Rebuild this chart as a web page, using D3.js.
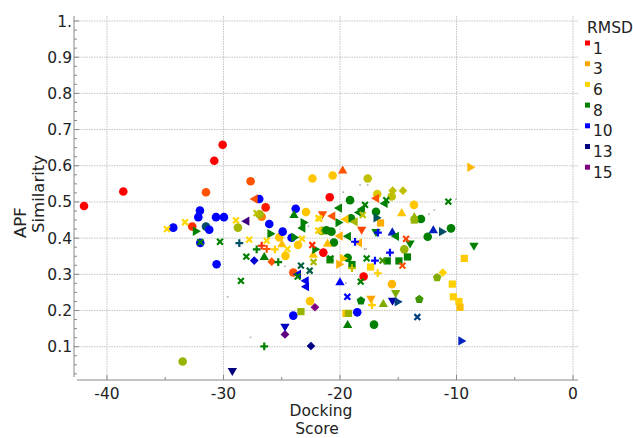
<!DOCTYPE html>
<html>
<head>
<meta charset="utf-8">
<script src="https://cdn.jsdelivr.net/npm/d3@7"></script>
<style>
  body { margin: 0; background: #fff; }
  text { font-family: "DejaVu Sans", sans-serif; fill: #222; }
</style>
</head>
<body>
<svg id="chart" width="633" height="438"></svg>
<script>
// [docking score, APF similarity, RMSD] grouped by marker shape
const circlePoints = [
  [-41.97,0.489,1],[-38.6,0.529,1],[-31.5,0.527,2],[-30.79,0.614,1],[-30.07,0.658,1],
  [-27.67,0.557,2],[-26.93,0.508,10],[-26.38,0.485,1.3],[-26.72,0.459,2.5],[-26.9,0.466,6.7],
  [-32.02,0.476,10],[-32.16,0.458,10],[-30.64,0.458,10],[-29.96,0.458,10],[-22.36,0.565,5],
  [-23.8,0.481,10],[-22.92,0.472,5],[-34.31,0.429,10],[-32.68,0.432,1.5],[-31.5,0.432,8.8],
  [-31.22,0.423,10],[-31.99,0.387,10],[-30.59,0.328,10],[-28.76,0.429,6.7],[-26.07,0.439,10],
  [-25.21,0.402,5],[-24.92,0.418,10],[-24.68,0.351,5],[-24.15,0.401,10],[-23.6,0.381,5],
  [-24.01,0.305,2],[-22.57,0.226,5],[-24.01,0.186,10],[-33.5,0.059,6.8],[-20.63,0.573,5],
  [-17.62,0.565,6.5],[-20.88,0.513,1],[-16.8,0.522,6.3],[-15.56,0.515,6.5],[-19.14,0.505,8],
  [-13.65,0.492,5],[-16.91,0.473,8],[-21.57,0.420,6.8],[-21.16,0.422,8],[-20.73,0.418,8],
  [-20.52,0.388,8],[-14.48,0.369,6.8],[-21.43,0.360,1],[-19.34,0.346,8],[-17.97,0.294,1],
  [-15.54,0.273,4],[-18.52,0.195,10],[-17.08,0.161,8],[-13.05,0.453,8],[-12.47,0.404,8],
  [-10.47,0.427,8],[-19.06,0.455,8]
];
const squarePoints = [
  [-23.35,0.197,6.8],[-16.52,0.442,3.5],[-20.86,0.340,7.8],[-18.97,0.327,8],[-15.94,0.337,8],
  [-14.94,0.337,8],[-14.21,0.348,8],[-17.37,0.320,6],[-10.36,0.273,5.5],[-10.27,0.238,5.5],
  [-9.79,0.225,5.5],[-9.7,0.209,4.5],[-19.49,0.192,5],[-19.27,0.192,6.8],[-13.62,0.450,6.8],
  [-9.33,0.344,5.3]
];
const diamondPoints = [
  [-27.36,0.338,11],[-25.86,0.335,2],[-22.15,0.209,15],[-24.72,0.134,14.5],[-22.49,0.102,13],
  [-15.48,0.531,6.5],[-14.59,0.531,6.5],[-11.18,0.305,5.7]
];
const triUpPoints = [
  [-23.95,0.463,8],[-26.5,0.347,8],[-24.98,0.382,4.5],[-22.29,0.353,5],[-19.77,0.586,2],
  [-14.7,0.468,5],[-15.51,0.415,9.5],[-21.07,0.384,4.5],[-20.0,0.277,10],[-16.28,0.217,7],
  [-19.34,0.159,8],[-13.62,0.457,6.8],[-11.99,0.421,9.5]
];
const triDownPoints = [
  [-24.72,0.156,11.5],[-29.24,0.034,13],[-21.5,0.467,2],[-18.14,0.424,1.8],[-16.91,0.418,8],
  [-13.99,0.386,8],[-15.22,0.249,7],[-17.34,0.233,3],[-15.49,0.228,12],[-8.5,0.380,8]
];
const triLeftPoints = [
  [-27.3,0.508,2],[-28.01,0.447,14],[-23.58,0.300,10.5],[-22.92,0.282,10.5],[-22.89,0.266,10.5],
  [-23.2,0.428,8],[-18.09,0.480,8],[-16.14,0.496,8],[-16.87,0.510,2],[-20.06,0.483,8],
  [-18.34,0.471,8],[-20.64,0.461,2],[-19.5,0.452,5],[-18.71,0.445,6.7],[-20.0,0.406,3.5],
  [-19.29,0.405,8],[-18.34,0.387,3.5],[-15.17,0.405,8]
];
const triRightPoints = [
  [-32.4,0.419,8],[-26.0,0.412,8],[-23.95,0.402,8],[-22.15,0.369,8],[-23.15,0.443,8],
  [-20.15,0.443,8],[-16.89,0.456,8.7],[-19.77,0.344,5],[-20.09,0.328,3.5],[-15.08,0.224,9],
  [-9.61,0.116,9.5],[-8.84,0.596,4],[-11.27,0.418,8.8]
];
const timesPoints = [
  [-27.15,0.469,6.5],[-34.85,0.425,6],[-33.3,0.444,6],[-31.99,0.389,8],[-30.3,0.390,8],
  [-28.93,0.449,6],[-28.5,0.282,8],[-28.04,0.349,8],[-27.79,0.396,6],[-26.29,0.393,6],
  [-24.51,0.370,6],[-23.26,0.398,6],[-23.35,0.324,8.5],[-23.63,0.294,8],[-22.6,0.310,8.5],
  [-22.38,0.381,1.5],[-22.27,0.334,6.7],[-21.86,0.455,6],[-21.86,0.421,5.5],[-17.85,0.492,8],
  [-16.03,0.505,8],[-18.05,0.464,6.5],[-21.76,0.454,6],[-14.33,0.398,1.8],[-20.82,0.344,8],
  [-17.71,0.344,8],[-16.35,0.338,7.5],[-14.64,0.324,2],[-18.22,0.280,8],[-19.37,0.238,10],
  [-13.36,0.182,9],[-10.7,0.501,8]
];
const plusPoints = [
  [-28.64,0.386,8.8],[-27.15,0.369,8],[-26.72,0.379,1.5],[-26.29,0.370,2],[-25.58,0.369,5.5],
  [-25.3,0.334,8],[-26.5,0.101,8],[-16.74,0.415,10],[-18.71,0.390,10],[-15.71,0.360,10],
  [-18.97,0.317,6.5],[-17.0,0.338,10],[-16.76,0.303,5.5],[-17.25,0.215,5.5]
];
const pentagonPoints = [
  [-18.2,0.227,8],[-13.19,0.231,7.5],[-11.66,0.291,7]
];
const dotPoints = [
  [-29.64,0.238],[-27.67,0.126],[-24.72,0.322],[-18.28,0.547],[-17.62,0.547],[-19.72,0.527],
  [-10.04,0.508],[-11.9,0.478],[-12.36,0.466],[-17.9,0.37],[-17.75,0.37],[-19.5,0.276],[-22.7,0.433]
];

const legendValues = [1, 3, 6, 8, 10, 13, 15];
const legendColors = ["#ff0000", "#ffa500", "#ffd700", "#008000", "#0000ff", "#000080", "#800080"];
const xTicks = [-40, -30, -20, -10, 0];
const xMinorTicks = [-35, -25, -15, -5];
const yTicks = [0.1, 0.2, 0.3, 0.4, 0.5, 0.6, 0.7, 0.8, 0.9, 1.0];
const yTickLabels = ["0.1", "0.2", "0.3", "0.4", "0.5", "0.6", "0.7", "0.8", "0.9", "1."];

const svg = d3.select('#chart');

const x = d3.scaleLinear().domain([-42.83, 0.43]).range([74, 578]);
const y = d3.scaleLinear().domain([0, 1]).range([382.9, 21]);
const color = d3.scaleLinear().domain(legendValues).range(legendColors).interpolate(d3.interpolateRgb);

// grid
svg.append('g')
    .selectAll('line')
    .data(xTicks)
    .join('line')
    .attr('x1', d => x(d)).attr('x2', d => x(d))
    .attr('y1', 16).attr('y2', 379)
    .attr('stroke', '#c4c4c4').attr('stroke-dasharray', '1.5,1')
svg.append('g')
    .selectAll('line')
    .data(yTicks)
    .join('line')
    .attr('x1', 74).attr('x2', 578)
    .attr('y1', d => y(d)).attr('y2', d => y(d))
    .attr('stroke', '#c4c4c4').attr('stroke-dasharray', '1.5,1')

// axes lines
svg.append('line').attr('x1', 74).attr('x2', 74).attr('y1', 16).attr('y2', 377)
    .attr('stroke', '#888')
svg.append('line').attr('x1', 77).attr('x2', 578).attr('y1', 380).attr('y2', 380)
    .attr('stroke', '#888')

// x ticks
svg.append('g').selectAll('line').data(xTicks).join('line')
    .attr('x1', d => x(d)).attr('x2', d => x(d)).attr('y1', 380).attr('y2', 375)
    .attr('stroke', '#888')
svg.append('g').selectAll('line').data(xMinorTicks).join('line')
    .attr('x1', d => x(d)).attr('x2', d => x(d)).attr('y1', 380).attr('y2', 377)
    .attr('stroke', '#888')
svg.append('g').selectAll('text').data(xTicks).join('text')
    .attr('x', d => x(d)).attr('y', 399)
    .attr('text-anchor', 'middle')
    .style('font-size', '15.5px')
    .text(d => d)

// y ticks
let yMinor = d3.range(0.025, 1.0, 0.025).filter(v => Math.abs(v * 10 - Math.round(v * 10)) > 0.01)
svg.append('g').selectAll('line').data(yTicks).join('line')
    .attr('x1', 74).attr('x2', 79).attr('y1', d => y(d)).attr('y2', d => y(d))
    .attr('stroke', '#888')
svg.append('g').selectAll('line').data(yMinor).join('line')
    .attr('x1', 74).attr('x2', 77).attr('y1', d => y(d)).attr('y2', d => y(d))
    .attr('stroke', '#888')
svg.append('g').selectAll('text').data(yTicks).join('text')
    .attr('x', 72).attr('y', d => y(d) + 5.5)
    .attr('text-anchor', 'end')
    .style('font-size', '15.5px')
    .text((d, i) => yTickLabels[i])

// axis titles
svg.append('text').attr('x', 321).attr('y', 416).attr('text-anchor', 'middle')
    .style('font-size', '15.5px').text('Docking')
svg.append('text').attr('x', 317).attr('y', 434).attr('text-anchor', 'middle')
    .style('font-size', '15.5px').text('Score')
svg.append('text').attr('transform', 'translate(26,238) rotate(-90)')
    .style('font-size', '16.5px').text('APF')
svg.append('text').attr('transform', 'translate(44,233) rotate(-90)')
    .style('font-size', '16.5px').text('Similarity')

// custom symbols
const pentagon = {
    draw(ctx, size) {
        let r = Math.sqrt(size / 2.378)
        for (let k = 0; k < 5; k++) {
            let a = -Math.PI / 2 + k * 2 * Math.PI / 5
            if (k == 0) ctx.moveTo(r * Math.cos(a), r * Math.sin(a))
            else ctx.lineTo(r * Math.cos(a), r * Math.sin(a))
        }
        ctx.closePath()
    }
}
const timesSym = {
    draw(ctx, size) {
        let r = Math.sqrt(size) / 2
        ctx.moveTo(-r, -r); ctx.lineTo(r, r)
        ctx.moveTo(r, -r); ctx.lineTo(-r, r)
    }
}
const plusSym = {
    draw(ctx, size) {
        let r = Math.sqrt(size) / 2
        ctx.moveTo(-r, 0); ctx.lineTo(r, 0)
        ctx.moveTo(0, -r); ctx.lineTo(0, r)
    }
}

let groups = [
    {pts: circlePoints, sym: d3.symbolCircle, size: 58, rot: 0},
    {pts: squarePoints, sym: d3.symbolSquare, size: 52, rot: 0},
    {pts: diamondPoints, sym: d3.symbolSquare, size: 38, rot: 45},
    {pts: triUpPoints, sym: d3.symbolTriangle, size: 38, rot: 0},
    {pts: triDownPoints, sym: d3.symbolTriangle, size: 38, rot: 180},
    {pts: triLeftPoints, sym: d3.symbolTriangle, size: 38, rot: -90},
    {pts: triRightPoints, sym: d3.symbolTriangle, size: 38, rot: 90},
    {pts: pentagonPoints, sym: pentagon, size: 48, rot: 0},
    {pts: timesPoints, sym: timesSym, size: 34, rot: 0, stroke: true},
    {pts: plusPoints, sym: plusSym, size: 60, rot: 0, stroke: true}
]

let plot = svg.append('g')
groups.forEach(g => {
    let path = d3.symbol().type(g.sym).size(g.size)
    plot.append('g')
        .selectAll('path')
        .data(g.pts)
        .join('path')
        .attr('d', path)
        .attr('transform', d => `translate(${x(d[0])},${y(d[1])}) rotate(${g.rot})`)
        .attr('fill', d => g.stroke ? 'none' : color(d[2]))
        .attr('stroke', d => g.stroke ? color(d[2]) : 'none')
        .attr('stroke-width', g.stroke ? 2.2 : 0)
})
plot.append('g')
    .selectAll('circle')
    .data(dotPoints)
    .join('circle')
    .attr('cx', d => x(d[0])).attr('cy', d => y(d[1]))
    .attr('r', 0.9)
    .attr('fill', '#b8a8a8')

// legend
let legend = svg.append('g')
legend.append('text').attr('x', 587).attr('y', 33).style('font-size', '15.5px').text('RMSD')
let items = legend.selectAll('g.item')
    .data(legendValues)
    .join('g')
    .attr('class', 'item')
    .attr('transform', (d, i) => `translate(0,${43 + i * 20.7})`)
items.append('rect')
    .attr('x', 585).attr('y', -2.5).attr('width', 5).attr('height', 5)
    .attr('fill', (d, i) => legendColors[i])
items.append('text')
    .attr('x', 593).attr('y', 10.5)
    .style('font-size', '15.5px')
    .text(d => d)
</script>
</body>
</html>
